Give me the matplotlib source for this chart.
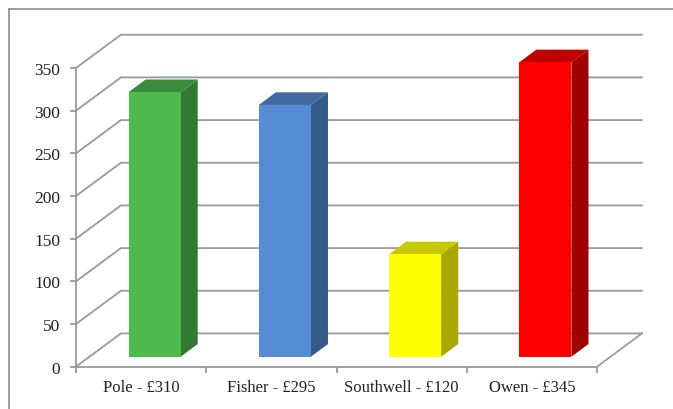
import matplotlib
matplotlib.use("Agg")
import matplotlib.pyplot as plt
from matplotlib.lines import Line2D
from matplotlib.patches import Polygon

names = ["Pole - £310", "Fisher - £295", "Southwell - £120", "Owen - £345"]
values = [310, 295, 120, 345]
y_ticks = [0, 50, 100, 150, 200, 250, 300, 350]
front_colors = ["#4fbb4f", "#568bd5", "#ffff00", "#ff0000"]
top_colors = ["#3b8a3b", "#41699f", "#c8c800", "#c00000"]
side_colors = ["#327a32", "#345a8a", "#a8a800", "#a00000"]

GREY = "#9a9a9a"
W, H = 673, 410
# how far the 3d floor goes back, in data units
DEPTH_X = 0.345
DEPTH_Y = 39.0
BAR_W = 0.4


def project(x, y, d):
    # d=0 is the front plane, d=1 is the back wall
    return x + d * DEPTH_X, y + d * DEPTH_Y


plt.rcParams["font.family"] = ["Liberation Serif", "DejaVu Serif"]

fig = plt.figure(figsize=(W / 100, H / 100), dpi=100)
ax = fig.add_axes([76 / W, 1 - 367.7 / H, (597 - 76) / W, (367.7 - 69) / H])
ax.set_xlim(0, len(names))
ax.set_ylim(0, 350)

# outer frame, only top and left show in the picture
fig.add_artist(Line2D([9 / W, 9 / W], [0, 1 - 10 / H], color="#8c8c8c", lw=1.2))
fig.add_artist(Line2D([9 / W, 1], [1 - 10 / H, 1 - 10 / H], color="#8c8c8c", lw=1.2))

# gridlines go back along the side wall and then across the back wall
for t in y_ticks:
    bx, by = project(0, t, 1)
    ex, ey = project(len(names), t, 1)
    ax.plot([0, bx, ex], [t, by, ey], color=GREY, lw=1.3, clip_on=False, zorder=1)

# right edge of the floor
fx, fy = project(len(names), 0, 1)
ax.plot([len(names), fx], [0, fy], color=GREY, lw=1.3, clip_on=False, zorder=1)

for i, v in enumerate(values):
    left = i + 0.5 - BAR_W / 2
    right = i + 0.5 + BAR_W / 2
    d0, d1 = 0.3, 0.68
    front = [project(left, 0, d0), project(right, 0, d0), project(right, v, d0), project(left, v, d0)]
    side = [project(right, 0, d0), project(right, 0, d1), project(right, v, d1), project(right, v, d0)]
    top = [project(left, v, d0), project(right, v, d0), project(right, v, d1), project(left, v, d1)]
    ax.add_patch(Polygon(side, fc=side_colors[i], ec="none", clip_on=False, zorder=3))
    ax.add_patch(Polygon(top, fc=top_colors[i], ec="none", clip_on=False, zorder=3))
    ax.add_patch(Polygon(front, fc=front_colors[i], ec="none", clip_on=False, zorder=4))

ax.patch.set_visible(False)
for s in ["top", "right"]:
    ax.spines[s].set_visible(False)
for s in ["left", "bottom"]:
    ax.spines[s].set_color(GREY)
    ax.spines[s].set_linewidth(1.3)

ax.set_yticks(y_ticks)
ax.set_xticks(range(len(names) + 1))
ax.set_xticklabels([])
ax.set_xticks([i + 0.5 for i in range(len(names))], minor=True)
ax.set_xticklabels(names, minor=True, fontsize=12, color="#222222")
ax.tick_params(axis="x", which="minor", length=0, pad=9)
ax.tick_params(axis="x", which="major", length=4, width=1.3, color=GREY)
ax.tick_params(axis="y", length=4, width=1.3, color=GREY, pad=7.5, labelsize=12.5, labelcolor="#222222")

fig.savefig("out.png", dpi=100)
